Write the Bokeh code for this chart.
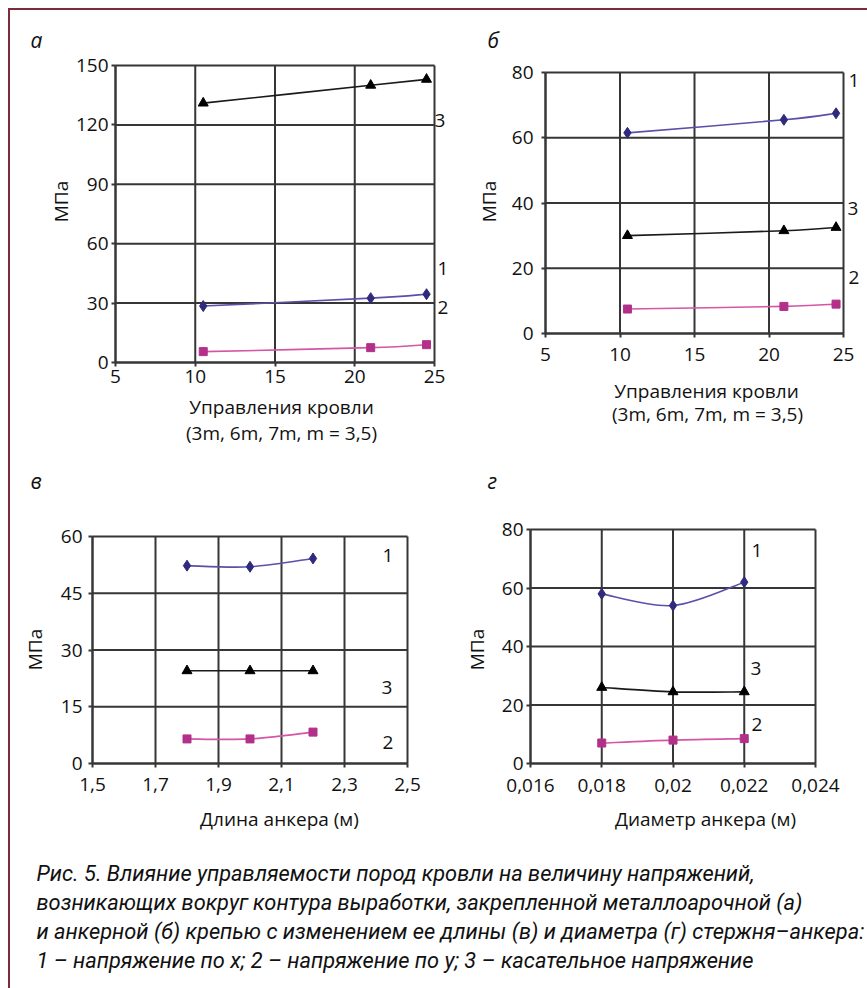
import math
from bokeh.plotting import figure
from bokeh.models import Label, FixedTicker, Div, Spacer, Range1d
from bokeh.layouts import row, column
from bokeh.embed import file_html
from bokeh.resources import INLINE

# ---------------- data ----------------
a_x = [10.5, 21, 24.5]
a_s1 = [28.5, 32.5, 34.5]
a_s2 = [5.5, 7.5, 9.0]
a_s3 = [131, 140, 143]

b_x = [10.5, 21, 24.5]
b_s1 = [61.5, 65.5, 67.5]
b_s2 = [7.5, 8.3, 9.0]
b_s3 = [30, 31.5, 32.5]

c_x = [1.8, 2.0, 2.2]
c_s1 = [52.3, 52.0, 54.2]
c_s2 = [6.5, 6.5, 8.3]
c_s3 = [24.5, 24.5, 24.5]

d_x = [0.018, 0.020, 0.022]
d_s1 = [58, 54, 62]
d_s2 = [7, 8, 8.5]
d_s3 = [26, 24.5, 24.5]

a_xticks = [5, 10, 15, 20, 25]
a_xlabels = ["5", "10", "15", "20", "25"]
a_yticks = [0, 30, 60, 90, 120, 150]
b_xticks = [5, 10, 15, 20, 25]
b_xlabels = ["5", "10", "15", "20", "25"]
b_yticks = [0, 20, 40, 60, 80]
c_xticks = [1.5, 1.7, 1.9, 2.1, 2.3, 2.5]
c_xlabels = ["1,5", "1,7", "1,9", "2,1", "2,3", "2,5"]
c_yticks = [0, 15, 30, 45, 60]
d_xticks = [0.016, 0.018, 0.020, 0.022, 0.024]
d_xlabels = ["0,016", "0,018", "0,02", "0,022", "0,024"]
d_yticks = [0, 20, 40, 60, 80]

series_names = ["1", "2", "3"]
x_title_a = ["Управления кровли", "(3m, 6m, 7m, m = 3,5)"]
x_title_b = ["Управления кровли", "(3m, 6m, 7m, m = 3,5)"]
x_title_c = ["Длина анкера (м)"]
x_title_d = ["Диаметр анкера (м)"]
y_title = "МПа"
caption_lines = [
    "Рис. 5. Влияние управляемости пород кровли на величину напряжений,",
    "возникающих вокруг контура выработки, закрепленной металлоарочной (а)",
    "и анкерной (б) крепью с изменением ее длины (в) и диаметра (г) стержня–анкера:",
    "1 – напряжение по x; 2 – напряжение по y; 3 – касательное напряжение",
]

# ---------------- styles ----------------
FONT = "Open Sans"
CAP_FONT = "Roboto"
TXT = "#111111"
GRID = "#363636"
C1_LINE, C1_MARK = "#5a50aa", "#2f2a7c"
C2_LINE, C2_MARK = "#d456a4", "#b3308a"
C3_LINE, C3_MARK = "#1a1a1a", "#000000"
BORDER = "#7b2c3a"


def smooth(xs, ys):
    n = len(xs)
    seg = dict(x0=[], y0=[], x1=[], y1=[], cx0=[], cy0=[], cx1=[], cy1=[])
    for i in range(n - 1):
        xm, ym = (xs[i - 1], ys[i - 1]) if i > 0 else (xs[i], ys[i])
        xp, yp = (xs[i + 2], ys[i + 2]) if i + 2 < n else (xs[i + 1], ys[i + 1])
        seg["x0"].append(xs[i]); seg["y0"].append(ys[i])
        seg["x1"].append(xs[i + 1]); seg["y1"].append(ys[i + 1])
        seg["cx0"].append(xs[i] + (xs[i + 1] - xm) / 6.0)
        seg["cy0"].append(ys[i] + (ys[i + 1] - ym) / 6.0)
        seg["cx1"].append(xs[i + 1] - (xp - xs[i]) / 6.0)
        seg["cy1"].append(ys[i + 1] - (yp - ys[i]) / 6.0)
    return seg


def panel(spec):
    fx0, fy0, fx1, fy1 = spec["frame"]      # plot box in page pixels
    ox, oy = spec["origin"]                  # figure origin in page pixels
    W, H = spec["size"]
    xt, yt = spec["xticks"], spec["yticks"]
    xd0, xd1 = xt[0], xt[-1]
    yd0, yd1 = yt[0], yt[-1]
    sx = (xd1 - xd0) / (fx1 - fx0)
    sy = (yd1 - yd0) / (fy1 - fy0)
    xr = Range1d(xd0 - (fx0 - ox) * sx, xd1 + (ox + W - fx1) * sx)
    yr = Range1d(yd0 - (oy + H - fy1) * sy, yd1 + (fy0 - oy) * sy)

    def to_data(px, py):
        return xd0 + (px - fx0) * sx, yd0 + (fy1 - py) * sy

    p = figure(width=W, height=H, x_range=xr, y_range=yr,
               output_backend="svg", toolbar_location=None,
               min_border_left=0, min_border_right=0,
               min_border_top=0, min_border_bottom=0)
    p.background_fill_color = "white"
    p.border_fill_color = "white"
    p.outline_line_color = None
    p.grid.visible = False

    # grid lines of the plot box, drawn from the tick lists
    p.segment(x0=xt, y0=[yd0] * len(xt), x1=xt, y1=[yd1] * len(xt),
              line_color=GRID, line_width=2)
    p.segment(x0=[xd0] * len(yt), y0=yt, x1=[xd1] * len(yt), y1=yt,
              line_color=GRID, line_width=2)

    p.xaxis.fixed_location = yd0
    p.yaxis.fixed_location = xd0
    p.xaxis.bounds = (xd0, xd1)
    p.yaxis.bounds = (yd0, yd1)
    p.xaxis.ticker = FixedTicker(ticks=xt)
    p.xaxis.major_label_overrides = dict(zip(xt, spec["xlabels"]))
    p.yaxis.ticker = FixedTicker(ticks=yt)
    for ax in (p.xaxis, p.yaxis):
        ax.axis_line_color = GRID
        ax.axis_line_width = 2
        ax.major_tick_line_color = GRID
        ax.major_tick_line_width = 2
        ax.major_tick_out = 4
        ax.major_tick_in = 0
        ax.minor_tick_line_color = None
        ax.major_label_text_font = FONT
        ax.major_label_text_font_size = "19px"
        ax.major_label_text_color = TXT
    p.xaxis.major_label_standoff = spec["xstand"]
    p.yaxis.major_label_standoff = spec["ystand"]

    xs = spec["x"]
    for ys, lc, mc, mk, ms in ((spec["s1"], C1_LINE, C1_MARK, "diamond", 11),
                               (spec["s2"], C2_LINE, C2_MARK, "square", 8),
                               (spec["s3"], C3_LINE, C3_MARK, "triangle", 10)):
        seg = smooth(xs, ys)
        p.bezier(x0="x0", y0="y0", x1="x1", y1="y1", cx0="cx0", cy0="cy0",
                 cx1="cx1", cy1="cy1", source=seg, line_color=lc, line_width=1.6)
        p.scatter(xs, ys, marker=mk, size=ms, fill_color=mc, line_color=mc)

    # y title
    x, y = to_data(*spec["ytitle_pos"])
    p.add_layout(Label(x=x, y=y, text=y_title, text_font=FONT, angle=math.pi / 2,
                       text_font_size="19px", text_color=TXT,
                       text_align="center", text_baseline="middle"))
    # series labels
    for name, (px, py) in zip(series_names, spec["series_pos"]):
        x, y = to_data(px, py)
        p.add_layout(Label(x=x, y=y, text=name, text_font=FONT,
                           text_font_size="19px", text_color=TXT,
                           text_align="left", text_baseline="middle"))
    # panel letter
    x, y = to_data(*spec["letter_pos"])
    p.add_layout(Label(x=x, y=y, text=spec["letter"], text_font=FONT,
                       text_font_size="21px", text_font_style="italic",
                       text_color=TXT, text_align="left",
                       text_baseline="alphabetic"))
    # x titles
    for txt, (px, py) in zip(spec["xtitle"], spec["xtitle_pos"]):
        x, y = to_data(px, py)
        p.add_layout(Label(x=x, y=y, text=txt, text_font=FONT,
                           text_font_size="19px", text_color=TXT,
                           text_align="center", text_baseline="middle"))
    return p


fa = panel(dict(origin=(10, 10), size=(445, 445), frame=(115, 65, 434, 362),
                xticks=a_xticks, xlabels=a_xlabels, yticks=a_yticks,
                xstand=3, ystand=3,
                x=a_x, s1=a_s1, s2=a_s2, s3=a_s3,
                ytitle_pos=(60, 201),
                series_pos=[(437, 268), (437, 307), (434, 120)],
                letter="а", letter_pos=(30, 39),
                xtitle=x_title_a, xtitle_pos=[(281, 406), (281, 432)]))

fb = panel(dict(origin=(455, 10), size=(412, 445), frame=(545, 72, 843, 333),
                xticks=b_xticks, xlabels=b_xlabels, yticks=b_yticks,
                xstand=10, ystand=8,
                x=b_x, s1=b_s1, s2=b_s2, s3=b_s3,
                ytitle_pos=(488, 201),
                series_pos=[(848, 80), (848, 277), (847, 208)],
                letter="б", letter_pos=(487, 39),
                xtitle=x_title_b, xtitle_pos=[(706, 390), (707, 413)]))

fc = panel(dict(origin=(10, 455), size=(445, 385), frame=(92, 536, 407, 763),
                xticks=c_xticks, xlabels=c_xlabels, yticks=c_yticks,
                xstand=10, ystand=6,
                x=c_x, s1=c_s1, s2=c_s2, s3=c_s3,
                ytitle_pos=(34, 649),
                series_pos=[(382, 555), (382, 742), (381, 687)],
                letter="в", letter_pos=(30, 480),
                xtitle=x_title_c, xtitle_pos=[(279, 818)]))

fd = panel(dict(origin=(455, 455), size=(412, 385), frame=(530, 529, 815, 763),
                xticks=d_xticks, xlabels=d_xlabels, yticks=d_yticks,
                xstand=11, ystand=3,
                x=d_x, s1=d_s1, s2=d_s2, s3=d_s3,
                ytitle_pos=(476, 649),
                series_pos=[(751, 550), (751, 724), (750, 668)],
                letter="г", letter_pos=(487, 480),
                xtitle=x_title_d, xtitle_pos=[(705, 818)]))

# caption (figure spans page x 10..867, y 840..988)
cap = figure(width=857, height=148, x_range=(10, 867), y_range=(988, 840),
             output_backend="svg", toolbar_location=None,
             x_axis_type=None, y_axis_type=None,
             min_border_left=0, min_border_right=0, min_border_top=0, min_border_bottom=0)
cap.outline_line_color = None
cap.grid.visible = False
cap_y = [873, 902, 931, 960]
for txt, py in zip(caption_lines, cap_y):
    cap.add_layout(Label(x=36, y=py, text=txt, text_font=CAP_FONT,
                         text_font_style="italic", text_font_size="21.8px",
                         text_color=TXT, text_align="left",
                         text_baseline="middle"))

left_bar = Div(text="", width=2, height=980, margin=0,
               styles={"background-color": BORDER})
top_bar = Div(text="", width=857, height=2, margin=0,
              styles={"background-color": BORDER})

layout = column(Spacer(width=867, height=8),
                row(Spacer(width=8, height=980), left_bar,
                    column(top_bar, row(fa, fb), row(fc, fd), cap)))

open("out.html", "w").write(file_html(layout, INLINE))
